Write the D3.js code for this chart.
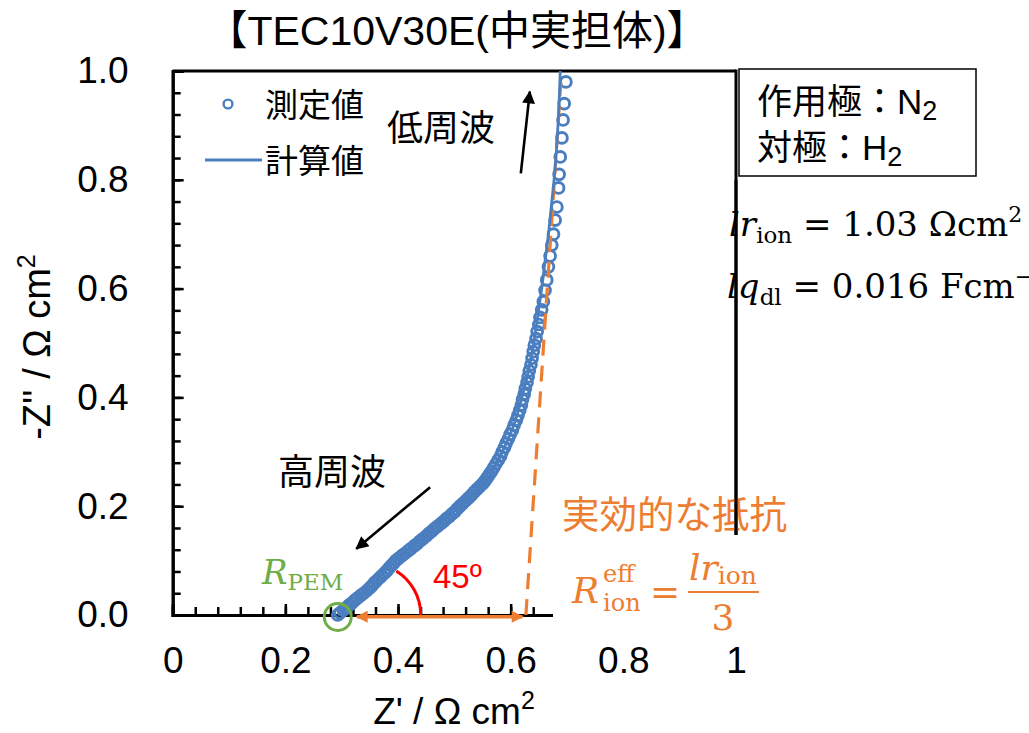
<!DOCTYPE html>
<html>
<head>
<meta charset="utf-8">
<script src="https://cdn.jsdelivr.net/npm/d3@7"></script>
<style>
  body { margin: 0; background: #fff; }
  svg { display: block; }
</style>
</head>
<body>
<svg id="chart" width="1029" height="733"></svg>
<script>
// Nyquist plot of TEC10V30E (solid carbon support), working electrode N2 / counter H2

// Measured impedance points: Z' (real) and -Z'' (imaginary), Ω cm²
const zReMeasured = [
  0.293, 0.297, 0.303, 0.308, 0.313, 0.318, 0.323, 0.328, 0.334, 0.339,
  0.345, 0.350, 0.354, 0.358, 0.362, 0.367, 0.371, 0.376, 0.380, 0.384,
  0.388, 0.392, 0.396, 0.401, 0.407, 0.412, 0.418, 0.423, 0.429, 0.434,
  0.439, 0.444, 0.450, 0.455, 0.460, 0.465, 0.470, 0.476, 0.481, 0.486,
  0.491, 0.496, 0.501, 0.505, 0.510, 0.515, 0.520, 0.525, 0.530, 0.535,
  0.540, 0.545, 0.550, 0.554, 0.558, 0.562, 0.566, 0.570, 0.574, 0.578,
  0.582, 0.585, 0.589, 0.592, 0.596, 0.599, 0.603, 0.606, 0.610, 0.613,
  0.616, 0.619, 0.621, 0.624, 0.626, 0.629, 0.631, 0.633, 0.636, 0.638,
  0.640, 0.642, 0.645, 0.647, 0.650, 0.652, 0.655, 0.658, 0.661, 0.664,
  0.667, 0.670, 0.673, 0.676, 0.679, 0.682, 0.685, 0.686, 0.688, 0.691,
  0.693, 0.695, 0.698
];
const zImMeasured = [
  0.000, 0.004, 0.009, 0.013, 0.018, 0.022, 0.027, 0.031, 0.036, 0.040,
  0.045, 0.050, 0.054, 0.059, 0.063, 0.068, 0.072, 0.077, 0.081, 0.086,
  0.091, 0.095, 0.100, 0.104, 0.109, 0.113, 0.118, 0.122, 0.127, 0.131,
  0.136, 0.140, 0.145, 0.150, 0.154, 0.159, 0.163, 0.168, 0.172, 0.177,
  0.181, 0.186, 0.190, 0.195, 0.200, 0.205, 0.210, 0.215, 0.220, 0.226,
  0.231, 0.236, 0.241, 0.246, 0.252, 0.258, 0.264, 0.271, 0.278, 0.285,
  0.292, 0.300, 0.308, 0.316, 0.324, 0.332, 0.340, 0.349, 0.358, 0.367,
  0.376, 0.386, 0.396, 0.406, 0.416, 0.427, 0.438, 0.449, 0.460, 0.472,
  0.484, 0.496, 0.508, 0.521, 0.534, 0.547, 0.561, 0.576, 0.597, 0.616,
  0.640, 0.660, 0.680, 0.700, 0.726, 0.750, 0.785, 0.810, 0.842, 0.877,
  0.910, 0.940, 0.980
];

// Fitted (calculated) impedance curve
const zReCalc = [0.293, 0.350, 0.396, 0.455, 0.510, 0.545, 0.565, 0.585, 0.606, 0.620,
                 0.632, 0.641, 0.648, 0.655, 0.661, 0.667, 0.672, 0.677, 0.681, 0.685, 0.688];
const zImCalc = [0.000, 0.050, 0.100, 0.150, 0.200, 0.235, 0.260, 0.300, 0.350, 0.400,
                 0.450, 0.500, 0.550, 0.600, 0.650, 0.700, 0.750, 0.800, 0.850, 0.920, 1.000];

// Axis ticks
const xTickValues = [0, 0.2, 0.4, 0.6, 0.8, 1];
const xTickLabels = ["0", "0.2", "0.4", "0.6", "0.8", "1"];
const yTickValues = [0, 0.2, 0.4, 0.6, 0.8, 1];
const yTickLabels = ["0.0", "0.2", "0.4", "0.6", "0.8", "1.0"];
const minorTickValues = d3.range(0, 1.0001, 0.04);

// Annotation geometry in data units
const rPem = [0.293, 0.0];                // high-frequency intercept (R_PEM)
const effLineRe = [0.627, 0.689];          // low-frequency asymptote
const effLineIm = [0.0, 0.98];
const effArrowRe = [0.327, 0.621];         // width of effective ionic resistance
const effArrowIm = -0.003;
const angleCenter = [0.348, 0.0];          // 45° marker
const lowFreqArrow = [[0.618, 0.812], [0.634, 0.962]];
const highFreqArrow = [[0.457, 0.235], [0.326, 0.122]];

const BLUE = "#4a7ebf", ORANGE = "#ed7d31", GREEN = "#70ad47", RED = "#ff0000";
const SANS = "'Liberation Sans', 'Noto Sans CJK JP', Arial, sans-serif";
const CJK = "'Noto Sans CJK JP', 'Liberation Sans', sans-serif";
const SERIF = "'DejaVu Serif', 'Liberation Serif', serif";

const svg = d3.select("#chart");
svg.append("rect").attr("width", 1029).attr("height", 733).attr("fill", "#fff");

const x = d3.scaleLinear().domain([0, 1]).range([172.7, 736]);
const y = d3.scaleLinear().domain([0, 1]).range([615, 71]);

// arrowhead markers
const defs = svg.append("defs");
defs.append("marker").attr("id", "headBlack")
  .attr("viewBox", "0 0 10 10").attr("refX", 9).attr("refY", 5)
  .attr("markerUnits", "userSpaceOnUse").attr("markerWidth", 17).attr("markerHeight", 13)
  .attr("orient", "auto")
  .append("path").attr("d", "M0,0 L10,5 L0,10 Z").attr("fill", "#000");
defs.append("marker").attr("id", "headOrange")
  .attr("viewBox", "0 0 10 10").attr("refX", 9).attr("refY", 5)
  .attr("markerUnits", "userSpaceOnUse").attr("markerWidth", 16).attr("markerHeight", 12)
  .attr("orient", "auto-start-reverse")
  .append("path").attr("d", "M0,0 L10,5 L0,10 Z").attr("fill", ORANGE);

// frame: top and right edges
const frame = svg.append("g");
frame.append("line").attr("x1", x(0)).attr("x2", x(1)).attr("y1", y(1)).attr("y2", y(1))
  .attr("stroke", "#000").attr("stroke-width", 3);
frame.append("line").attr("x1", x(1)).attr("x2", x(1)).attr("y1", y(1) - 1.5).attr("y2", y(0))
  .attr("stroke", "#000").attr("stroke-width", 3);

// axes
function styleAxis(g) {
  g.select(".domain").attr("stroke", "#000").attr("stroke-width", 3);
  g.selectAll(".tick line").attr("stroke", "#000").attr("stroke-width", 2.5);
  g.selectAll("text").attr("font-family", SANS).attr("font-size", 37).attr("fill", "#000");
}
svg.append("g").attr("transform", `translate(0,${y(0)})`)
  .call(d3.axisBottom(x).tickValues(minorTickValues).tickSize(-8).tickFormat(""))
  .call(styleAxis);
svg.append("g").attr("transform", `translate(0,${y(0)})`)
  .call(d3.axisBottom(x).tickValues(xTickValues).tickSize(-11).tickPadding(32)
    .tickFormat((d, i) => xTickLabels[i]))
  .call(styleAxis);
svg.append("g").attr("transform", `translate(${x(0)},0)`)
  .call(d3.axisLeft(y).tickValues(minorTickValues).tickSize(-8).tickFormat(""))
  .call(styleAxis);
svg.append("g").attr("transform", `translate(${x(0)},0)`)
  .call(d3.axisLeft(y).tickValues(yTickValues).tickSize(-11).tickPadding(44)
    .tickFormat((d, i) => yTickLabels[i]))
  .call(styleAxis);

// axis titles
const xt = svg.append("text").attr("x", 454).attr("y", 724).attr("text-anchor", "middle")
  .attr("font-family", SANS).attr("font-size", 37).attr("fill", "#000");
xt.append("tspan").text("Z' / Ω cm");
xt.append("tspan").attr("dy", -15).attr("font-size", 25).text("2");

const yt = svg.append("text").attr("transform", "translate(50,347) rotate(-90)")
  .attr("text-anchor", "middle").attr("font-family", SANS).attr("font-size", 38).attr("fill", "#000");
yt.append("tspan").text("-Z'' / Ω cm");
yt.append("tspan").attr("dy", -15).attr("font-size", 25).text("2");

// measured points
const measured = d3.zip(zReMeasured, zImMeasured);
svg.append("g").selectAll("circle").data(measured).join("circle")
  .attr("cx", d => x(d[0])).attr("cy", d => y(d[1])).attr("r", 5.4)
  .attr("fill", "none").attr("stroke", BLUE).attr("stroke-width", 2.9);

// low-frequency asymptote
svg.append("line")
  .attr("x1", x(effLineRe[0])).attr("y1", y(effLineIm[0]))
  .attr("x2", x(effLineRe[1])).attr("y2", y(effLineIm[1]))
  .attr("stroke", ORANGE).attr("stroke-width", 3.2).attr("stroke-dasharray", "16 10");

// calculated curve
const calc = d3.zip(zReCalc, zImCalc);
svg.append("path").datum(calc)
  .attr("d", d3.line().x(d => x(d[0])).y(d => y(d[1])).curve(d3.curveCatmullRom))
  .attr("fill", "none").attr("stroke", BLUE).attr("stroke-width", 2.8);

// legend
svg.append("circle").attr("cx", 228).attr("cy", 104).attr("r", 4.4)
  .attr("fill", "none").attr("stroke", BLUE).attr("stroke-width", 2.4);
svg.append("text").attr("x", 265).attr("y", 117).attr("font-family", CJK).attr("font-size", 33)
  .attr("fill", "#000").text("測定値");
svg.append("line").attr("x1", 205).attr("x2", 262).attr("y1", 160).attr("y2", 160)
  .attr("stroke", BLUE).attr("stroke-width", 3);
svg.append("text").attr("x", 265).attr("y", 173).attr("font-family", CJK).attr("font-size", 33)
  .attr("fill", "#000").text("計算値");

// frequency arrows
svg.append("line")
  .attr("x1", x(lowFreqArrow[0][0])).attr("y1", y(lowFreqArrow[0][1]))
  .attr("x2", x(lowFreqArrow[1][0])).attr("y2", y(lowFreqArrow[1][1]))
  .attr("stroke", "#000").attr("stroke-width", 2.6).attr("marker-end", "url(#headBlack)");
svg.append("line")
  .attr("x1", x(highFreqArrow[0][0])).attr("y1", y(highFreqArrow[0][1]))
  .attr("x2", x(highFreqArrow[1][0])).attr("y2", y(highFreqArrow[1][1]))
  .attr("stroke", "#000").attr("stroke-width", 2.6).attr("marker-end", "url(#headBlack)");
svg.append("text").attr("x", 387).attr("y", 141).attr("font-family", CJK).attr("font-size", 36)
  .attr("fill", "#000").text("低周波");
svg.append("text").attr("x", 278).attr("y", 485).attr("font-family", CJK).attr("font-size", 36)
  .attr("fill", "#000").text("高周波");

// 45° angle marker
const arcPath = d3.path();
arcPath.arc(x(angleCenter[0]), y(angleCenter[1]), 52, 0, -58 * Math.PI / 180, true);
svg.append("path").attr("d", arcPath.toString()).attr("fill", "none")
  .attr("stroke", RED).attr("stroke-width", 3);
svg.append("text").attr("x", 433).attr("y", 588).attr("font-family", SANS).attr("font-size", 33)
  .attr("fill", RED).text("45º");

// effective resistance width
svg.append("line")
  .attr("x1", x(effArrowRe[0])).attr("y1", y(effArrowIm))
  .attr("x2", x(effArrowRe[1])).attr("y2", y(effArrowIm))
  .attr("stroke", ORANGE).attr("stroke-width", 3.5)
  .attr("marker-start", "url(#headOrange)").attr("marker-end", "url(#headOrange)");

// R_PEM intercept
svg.append("circle").attr("cx", x(rPem[0])).attr("cy", y(rPem[1]) + 2).attr("r", 13.5)
  .attr("fill", "none").attr("stroke", GREEN).attr("stroke-width", 3);
const rp = svg.append("text").attr("x", 262).attr("y", 584).attr("font-family", SERIF)
  .attr("fill", GREEN).attr("font-size", 34);
rp.append("tspan").attr("font-style", "italic").text("R");
rp.append("tspan").attr("dy", 6).attr("font-size", 23).text("PEM");

// formula panel (white backing hides the frame behind it)
svg.append("rect").attr("x", 553).attr("y", 535).attr("width", 220).attr("height", 105).attr("fill", "#fff");
svg.append("text").attr("x", 562).attr("y", 528).attr("font-family", CJK).attr("font-size", 37.5)
  .attr("fill", ORANGE).text("実効的な抵抗");
const fr = svg.append("g").attr("font-family", SERIF).attr("fill", ORANGE);
fr.append("text").attr("x", 572).attr("y", 603).attr("font-size", 36).attr("font-style", "italic").text("R");
fr.append("text").attr("x", 603).attr("y", 582).attr("font-size", 24).text("eff");
fr.append("text").attr("x", 603).attr("y", 611).attr("font-size", 24).text("ion");
fr.append("text").attr("x", 650).attr("y", 604).attr("font-size", 36).text("=");
const num = fr.append("text").attr("x", 689).attr("y", 580).attr("font-size", 36);
num.append("tspan").attr("font-style", "italic").text("lr");
num.append("tspan").attr("dy", 4).attr("font-size", 25).text("ion");
fr.append("line").attr("x1", 688).attr("x2", 759).attr("y1", 592).attr("y2", 592)
  .attr("stroke", ORANGE).attr("stroke-width", 2);
fr.append("text").attr("x", 723).attr("y", 630).attr("font-size", 36).attr("text-anchor", "middle").text("3");

// gas condition box
svg.append("rect").attr("x", 739).attr("y", 69).attr("width", 237).attr("height", 107)
  .attr("fill", "#fff").attr("stroke", "#000").attr("stroke-width", 1.5);
const b1 = svg.append("text").attr("x", 757).attr("y", 114).attr("font-family", SANS)
  .attr("font-size", 35).attr("fill", "#000");
b1.append("tspan").attr("font-family", CJK).text("作用極：");
b1.append("tspan").text("N");
b1.append("tspan").attr("dy", 6).attr("font-size", 27).text("2");
const b2 = svg.append("text").attr("x", 757).attr("y", 160).attr("font-family", SANS)
  .attr("font-size", 35).attr("fill", "#000");
b2.append("tspan").attr("font-family", CJK).text("対極：");
b2.append("tspan").text("H");
b2.append("tspan").attr("dy", 6).attr("font-size", 27).text("2");

// fitted parameters
const p1 = svg.append("text").attr("x", 729).attr("y", 236).attr("font-family", SERIF)
  .attr("font-size", 34).attr("fill", "#000");
p1.append("tspan").attr("font-style", "italic").text("lr");
p1.append("tspan").attr("dy", 7).attr("font-size", 23).text("ion");
p1.append("tspan").attr("dy", -7).text(" = 1.03 Ωcm");
p1.append("tspan").attr("dy", -14).attr("font-size", 22).text("2");
const p2 = svg.append("text").attr("x", 727).attr("y", 298).attr("font-family", SERIF)
  .attr("font-size", 34).attr("fill", "#000");
p2.append("tspan").attr("font-style", "italic").text("lq");
p2.append("tspan").attr("dy", 7).attr("font-size", 23).text("dl");
p2.append("tspan").attr("dy", -7).text(" = 0.016 Fcm");
p2.append("tspan").attr("dy", -14).attr("font-size", 22).text("−2");
// right frame edge drawn over the parameter text
svg.append("line").attr("x1", x(1)).attr("x2", x(1)).attr("y1", 180).attr("y2", 535)
  .attr("stroke", "#000").attr("stroke-width", 3);

// title
svg.append("text").attr("x", 457).attr("y", 45).attr("text-anchor", "middle")
  .attr("font-family", SANS).attr("font-size", 41).attr("fill", "#000")
  .text("【TEC10V30E(中実担体)】");
</script>
</body>
</html>
